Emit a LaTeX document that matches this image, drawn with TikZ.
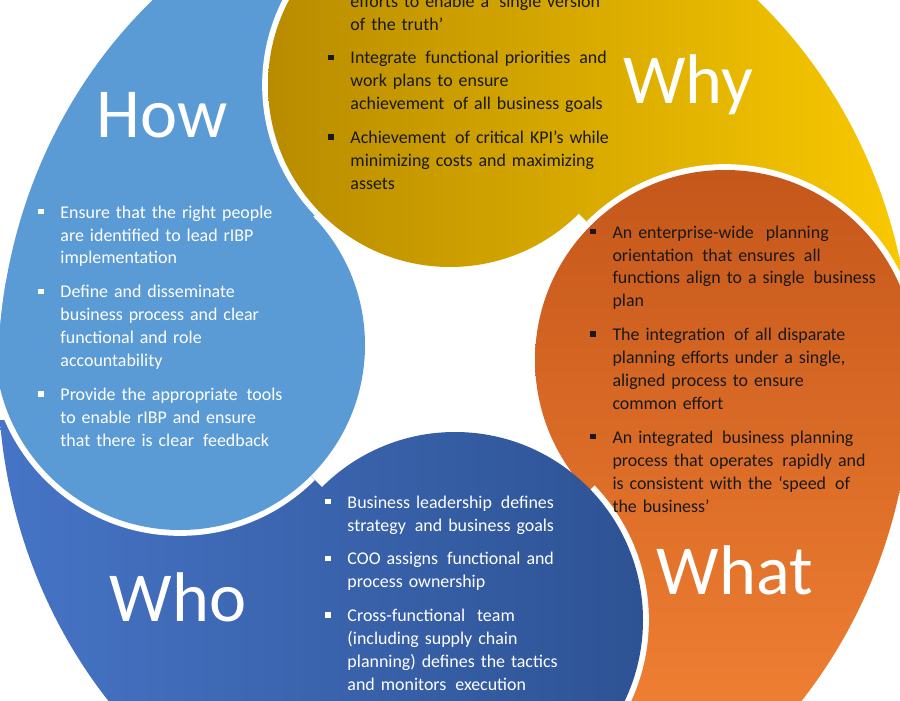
\documentclass[tikz,border=0pt]{standalone}
\usepackage{fontspec}
\setmainfont{Carlito}
\definecolor{gA}{HTML}{B88B00}\definecolor{gB}{HTML}{F8C800}
\definecolor{oA}{HTML}{C4561A}\definecolor{oB}{HTML}{EE7E32}
\definecolor{bA}{HTML}{4674C6}\definecolor{bB}{HTML}{2D5293}
\definecolor{lB}{HTML}{5B9BD5}
\newcommand\itm[1]{\par\hangindent=19pt\hangafter=1\noindent\makebox[19pt][l]{\rule[0.22em]{0.3em}{0.3em}}#1\par\vspace{9.4pt}}
\newcommand\cnt[1]{\par\hangindent=19pt\hangafter=0\noindent #1\par\vspace{9.4pt}}
\tikzset{
  lst/.style={anchor=north west,inner sep=0pt,text width=330pt,align=left,
    font=\fontsize{15.3}{19.55}\selectfont},
  lbl/.style={text=white,inner sep=0pt,font=\fontsize{60}{60}\selectfont},
  gap/.style={white,line width=10pt}
}
\def\E{(455,375) ellipse [x radius=457, y radius=500]}
\def\tWhy{(450,85) -- (450,-300) -- (1100,-300) -- (1100,360) -- (725,360) -- cycle}
\def\tWhat{(725,360) -- (1100,360) -- (1100,1100) -- (455,1100) -- (455,620) -- cycle}
\def\tWho{(455,620) -- (455,1100) -- (-200,1100) -- (-200,345) -- (180,345) -- cycle}
\def\tHow{(180,345) -- (-200,345) -- (-200,-300) -- (450,-300) -- (450,85) -- cycle}
\def\shWhy{\shade[left color=gA,right color=gB] (260,-110) rectangle (900,340);}
\def\shWhat{\shade[top color=oA,bottom color=oB] (520,160) rectangle (900,700);}
\def\shWho{\shade[left color=bA,right color=bB] (0,420) rectangle (660,700);}
\def\shHow{\fill[lB] (-10,-10) rectangle (400,560);}
\begin{document}
\begin{tikzpicture}[x=0.03cm,y=-0.03cm]
\useasboundingbox (0,0) rectangle (900,700);
\fill[white] (0,0) rectangle (900,700);
% tails
\begin{scope}\clip \E; \clip \tWhy; \shWhy \end{scope}
\begin{scope}\clip \E; \clip \tWhat; \shWhat \end{scope}
\begin{scope}\clip \E; \clip \tWho; \shWho \end{scope}
\begin{scope}\clip \E; \clip \tHow; \shHow \end{scope}
% heads
\begin{scope}\clip \E;
  \begin{scope}\clip \tHow; \draw[gap] (450,85) circle[radius=182]; \end{scope}
  \clip (450,85) circle[radius=182]; \shWhy
\end{scope}
\begin{scope}\clip \E;
  \begin{scope}\clip \tWhy; \draw[gap] (725,360) circle[radius=190]; \end{scope}
  \clip (725,360) circle[radius=190]; \shWhat
\end{scope}
\begin{scope}\clip \E;
  \begin{scope}\clip \tWhat; \draw[gap] (455,620) circle[radius=188]; \end{scope}
  \clip (455,620) circle[radius=188]; \shWho
\end{scope}
\begin{scope}\clip \E;
  \begin{scope}\clip \tWho; \draw[gap] (180,345) circle[radius=185]; \end{scope}
  \clip (180,345) circle[radius=185]; \shHow
\end{scope}
% labels
\node[lbl] (why) at (688,85) {Why};
\node[lbl] (how) at (162,115) {How};
\node[lbl] (what) at (735,570) {What};
\node[lbl] (who) at (178,597) {Who};
% lists
\node[lst,text=black!90] (whytxt) at (328,-16) {%
\cnt{efforts to enable a ‘single version\newline of the truth’}
\itm{Integrate\, functional priorities\, and\newline work plans to ensure\newline achievement\, of all business goals}
\itm{Achievement\, of critical KPI’s while\newline minimizing costs and maximizing\newline assets}};
\node[lst,text=white] (howtxt) at (38,195) {%
\itm{Ensure that the right people\newline are identified to lead rIBP\newline implementation}
\itm{Define and disseminate\newline business process and clear\newline functional and role\newline accountability}
\itm{Provide the appropriate\, tools\newline to enable rIBP and ensure\newline that there is clear\, feedback}};
\node[lst,text=black!90] (whattxt) at (590,215) {%
\itm{An enterprise-wide\,\, planning\newline orientation\, that ensures\, all\newline functions align to a single\, business\newline plan}
\itm{The integration\, of all disparate\newline planning efforts under a single,\newline aligned process to ensure\newline common effort}
\itm{An integrated\, business planning\newline process that operates\, rapidly and\newline is consistent with the ‘speed\, of\newline the business’}};
\node[lst,text=white] (whotxt) at (325,485) {%
\itm{Business leadership\, defines\newline strategy\, and business goals}
\itm{COO assigns\, functional and\newline process ownership}
\itm{Cross-functional\,\, team\newline (including supply chain\newline planning) defines the tactics\newline and monitors\, execution}};
\end{tikzpicture}
\end{document}
